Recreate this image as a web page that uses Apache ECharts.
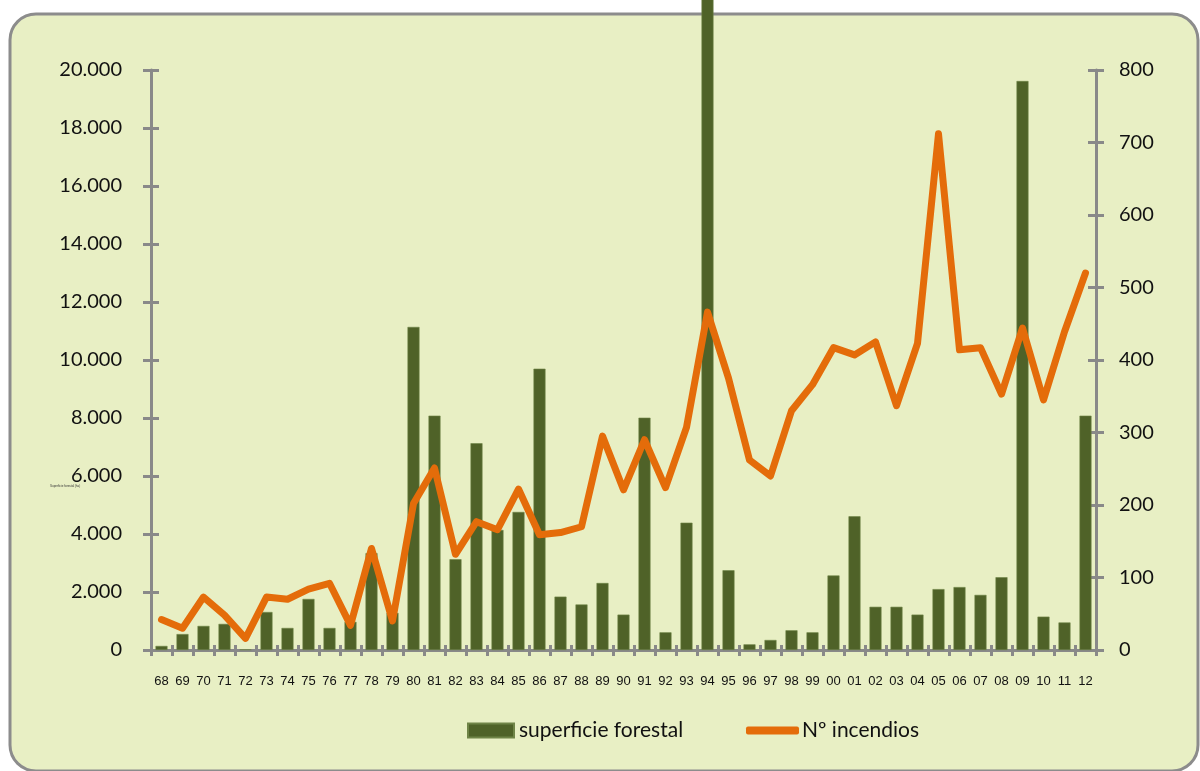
<!DOCTYPE html>
<html>
<head>
<meta charset="utf-8">
<title>superficie forestal / Nº incendios</title>
<script src="https://cdn.jsdelivr.net/npm/echarts@6/dist/echarts.min.js"></script>
<style>
  html, body { margin: 0; padding: 0; background: #ffffff; }
  #chart { width: 1200px; height: 771px; }
</style>
</head>
<body>
<div id="chart"></div>
<script>
  // años (categorías)
  var years = ['68', '69', '70', '71', '72', '73', '74', '75', '76', '77', '78', '79',
    '80', '81', '82', '83', '84', '85', '86', '87', '88', '89', '90', '91', '92', '93', '94',
    '95', '96', '97', '98', '99', '00', '01', '02', '03', '04', '05', '06', '07', '08', '09',
    '10', '11', '12'];

  // superficie forestal (ha)
  var superficie = [140, 550, 830, 900, 20, 1310, 760, 1760, 760, 970, 3340, 1280,
    11140, 8080, 3130, 7130, 4140, 4760, 9700, 1840, 1570, 2310, 1220, 8010, 610, 4390, 23000,
    2750, 195, 345, 680, 610, 2570, 4610, 1490, 1490, 1220, 2100, 2170, 1900, 2510, 19620,
    1150, 950, 8080];

  // Nº incendios
  var incendios = [42, 30, 73, 48, 16, 73, 70, 84, 92, 34, 140, 40,
    202, 251, 132, 177, 166, 222, 159, 162, 170, 295, 221, 290, 224, 307, 466,
    375, 262, 240, 330, 366, 417, 407, 425, 337, 423, 712, 414, 417, 353, 444,
    345, 439, 520];

  var axisGray = '#898989';
  var labelFont = 'Lato, "Open Sans", sans-serif';

  function miles(v) {
    return String(v).replace(/\B(?=(\d{3})+(?!\d))/g, '.');
  }

  var chart = echarts.init(document.getElementById('chart'));

  var option = {
    backgroundColor: '#ffffff',
    animation: false,
    graphic: [
      {
        type: 'rect',
        z: -10,
        shape: { x: 10, y: 14, width: 1188, height: 757, r: 26 },
        style: { fill: '#e8efc4', stroke: '#8c8c8c', lineWidth: 3 }
      },
      {
        type: 'text',
        left: 50, top: 485,
        style: { text: 'Superficie forestal (ha)', fontSize: 3, fill: '#333' }
      }
    ],
    grid: { left: 151, right: 104, top: 70, bottom: 121 },
    legend: [
      {
        left: 467, top: 720, padding: 0,
        itemWidth: 46, itemHeight: 14,
        data: [{ name: 'superficie forestal', icon: 'rect' }],
        textStyle: { fontFamily: labelFont, fontSize: 21, color: '#111' }
      },
      {
        left: 746, top: 720, padding: 0,
        itemWidth: 53, itemHeight: 8,
        data: [{ name: 'Nº incendios', icon: 'roundRect' }],
        textStyle: { fontFamily: labelFont, fontSize: 21, color: '#111', padding: [0, 0, 0, -2] }
      }
    ],
    xAxis: [
      {
        type: 'category',
        data: years,
        axisLine: { lineStyle: { color: axisGray, width: 3 } },
        axisTick: { show: true, length: 6, lineStyle: { color: axisGray, width: 3 } },
        axisLabel: { interval: 0, margin: 25, fontSize: 13, color: '#111', fontFamily: '"Liberation Sans", Arial, sans-serif' }
      },
      {
        type: 'category',
        data: years,
        position: 'bottom',
        axisLine: { show: false },
        axisTick: { show: true, inside: true, length: 5, lineStyle: { color: axisGray, width: 3 } },
        axisLabel: { show: false }
      }
    ],
    yAxis: [
      {
        type: 'value', position: 'left',
        min: 0, max: 20000, interval: 2000,
        axisLine: { show: true, lineStyle: { color: axisGray, width: 3 } },
        axisTick: { show: true, length: 8, lineStyle: { color: axisGray, width: 3 } },
        splitLine: { show: false },
        axisLabel: { margin: 29, fontSize: 20, color: '#111', fontFamily: labelFont, formatter: miles }
      },
      {
        type: 'value', position: 'left',
        min: 0, max: 20000, interval: 2000,
        axisLine: { show: false },
        axisTick: { show: true, inside: true, length: 8, lineStyle: { color: axisGray, width: 3 } },
        splitLine: { show: false },
        axisLabel: { show: false }
      },
      {
        type: 'value', position: 'right',
        min: 0, max: 800, interval: 100,
        axisLine: { show: true, lineStyle: { color: axisGray, width: 3 } },
        axisTick: { show: true, length: 8, lineStyle: { color: axisGray, width: 3 } },
        splitLine: { show: false },
        axisLabel: { margin: 23, fontSize: 20, color: '#111', fontFamily: labelFont }
      },
      {
        type: 'value', position: 'right',
        min: 0, max: 800, interval: 100,
        axisLine: { show: false },
        axisTick: { show: true, inside: true, length: 8, lineStyle: { color: axisGray, width: 3 } },
        splitLine: { show: false },
        axisLabel: { show: false }
      }
    ],
    series: [
      {
        name: 'superficie forestal',
        type: 'bar',
        xAxisIndex: 0,
        yAxisIndex: 0,
        data: superficie,
        barWidth: 12,
        clip: false,
        z: 1,
        itemStyle: { color: '#4f6228', borderColor: '#6f8447', borderWidth: 0.6 }
      },
      {
        name: 'Nº incendios',
        type: 'line',
        xAxisIndex: 0,
        yAxisIndex: 2,
        data: incendios,
        showSymbol: false,
        symbol: 'none',
        z: 3,
        itemStyle: { color: '#e46c0a' },
        lineStyle: { color: '#e46c0a', width: 7, cap: 'round', join: 'round' }
      }
    ]
  };

  chart.setOption(option);
</script>
</body>
</html>
